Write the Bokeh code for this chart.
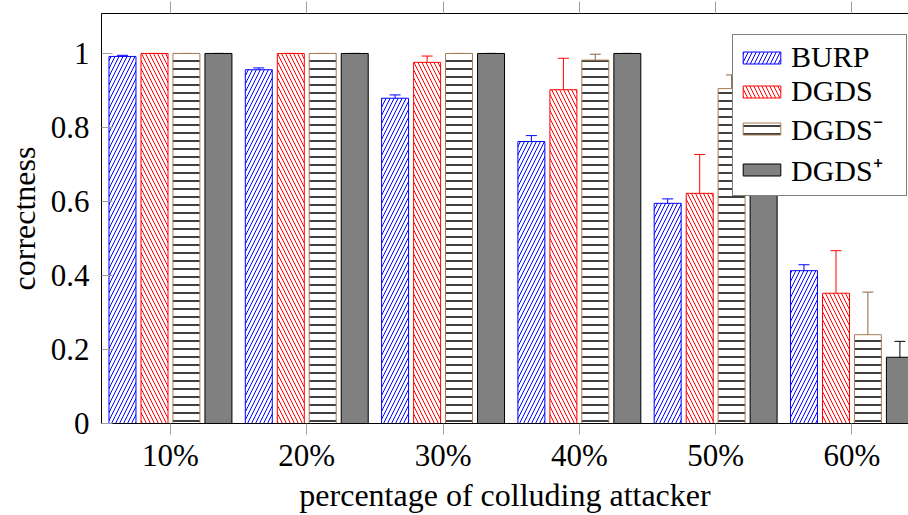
from bokeh.plotting import figure
from bokeh.models import (ColumnDataSource, Range1d, FixedTicker, CustomJSTickFormatter,
                          LinearAxis, Whisker, TeeHead, Legend, LegendItem)
from bokeh.embed import file_html
from bokeh.resources import INLINE

# ---- data ----
groups = ["10%", "20%", "30%", "40%", "50%", "60%"]
series_names = ["BURP", "DGDS", "DGDS\u207b", "DGDS\u207a"]
burp = [0.992, 0.956, 0.879, 0.762, 0.595, 0.413]
burp_err = [0.003, 0.005, 0.009, 0.016, 0.012, 0.016]
dgds = [1.0, 1.0, 0.976, 0.902, 0.622, 0.352]
dgds_err = [0.0, 0.0, 0.017, 0.085, 0.105, 0.115]
dgds_minus = [1.0, 1.0, 1.0, 0.982, 0.905, 0.240]
dgds_minus_err = [0.0, 0.0, 0.0, 0.016, 0.037, 0.115]
dgds_plus = [1.0, 1.0, 1.0, 1.0, 0.97, 0.179]
dgds_plus_err = [0.0, 0.0, 0.0, 0.0, 0.02, 0.043]
y_ticks = [0, 0.2, 0.4, 0.6, 0.8, 1]
x_title = "percentage of colluding attacker"
y_title = "correctness"

FONT = "Liberation Serif"
FS = "31px"

p = figure(width=908, height=515, output_backend="svg", toolbar_location=None,
           x_range=Range1d(0.494, 6.415), y_range=Range1d(0.0, 1.108),
           min_border_left=101, min_border_right=0, min_border_top=13, min_border_bottom=92,
           x_axis_location=None, y_axis_location=None)
p.grid.visible = False
p.outline_line_color = None
p.background_fill_color = "white"
p.border_fill_color = "white"

offsets = [-0.352, -0.117, 0.117, 0.352]
bar_w = 0.198
values = [burp, dgds, dgds_minus, dgds_plus]
errors = [burp_err, dgds_err, dgds_minus_err, dgds_plus_err]
styles = [
    dict(fill_color="white", line_color="#0000ff", hatch_pattern="/", hatch_color="#0000ff",
         hatch_scale=8, hatch_weight=1, whisk="#0000ff"),
    dict(fill_color="white", line_color="#ff0000", hatch_pattern="\\", hatch_color="#ff0000",
         hatch_scale=8, hatch_weight=1, whisk="#ff0000"),
    dict(fill_color="white", line_color="#a67c52", hatch_pattern="-", hatch_color="black",
         hatch_scale=8, hatch_weight=1.5, whisk="#8b6540"),
    dict(fill_color="#808080", line_color="black", hatch_pattern=None, hatch_color="black",
         hatch_scale=8, hatch_weight=1, whisk="black"),
]

items = []
for name, vals, errs, off, st in zip(series_names, values, errors, offsets, styles):
    xs = [i + 1 + off for i in range(len(groups))]
    src = ColumnDataSource(dict(x=xs, top=vals,
                                upper=[v + e for v, e in zip(vals, errs)],
                                lower=[v - e for v, e in zip(vals, errs)]))
    kw = dict(x="x", top="top", bottom=0, width=bar_w, source=src,
              fill_color=st["fill_color"], line_color=st["line_color"], line_width=1)
    if st["hatch_pattern"]:
        kw.update(hatch_pattern=st["hatch_pattern"], hatch_color=st["hatch_color"],
                  hatch_scale=st["hatch_scale"], hatch_weight=st["hatch_weight"])
    r = p.vbar(**kw)
    items.append(LegendItem(label=name, renderers=[r]))
    w = Whisker(source=src, base="x", upper="upper", lower="lower", dimension="height",
                line_color=st["whisk"], line_width=1,
                upper_head=TeeHead(size=11, line_color=st["whisk"], line_width=1),
                lower_head=TeeHead(size=11, line_color=st["whisk"], line_width=1))
    p.add_layout(w)

# axes
xticker = FixedTicker(ticks=[i + 1 for i in range(len(groups))])
xb = LinearAxis(ticker=xticker,
                major_label_overrides={i + 1: g for i, g in enumerate(groups)},
                axis_label=x_title)
xb.axis_line_color = "black"
xb.major_tick_line_color = "#a0a0a0"
xb.major_tick_out = 11
xb.major_tick_in = 0
xb.minor_tick_line_color = None
xb.major_label_standoff = 3
xb.axis_label_standoff = 1
xb.major_label_text_font = FONT
xb.major_label_text_font_size = FS
xb.major_label_text_color = "black"
xb.major_label_text_line_height = 1.0
xb.axis_label_text_font = FONT
xb.axis_label_text_font_size = "32px"
xb.axis_label_text_font_style = "normal"
xb.axis_label_text_color = "black"
xb.axis_label_text_line_height = 1.0
p.add_layout(xb, "below")

xt = LinearAxis(ticker=xticker, formatter=CustomJSTickFormatter(code="return ''"))
xt.axis_line_color = "black"
xt.major_tick_line_color = "#a0a0a0"
xt.major_tick_out = 12
xt.major_tick_in = 0
xt.minor_tick_line_color = None
xt.major_label_standoff = 0
xt.major_label_text_font_size = "0px"
p.add_layout(xt, "above")

yl = LinearAxis(ticker=FixedTicker(ticks=y_ticks),
                formatter=CustomJSTickFormatter(code="return tick.toString()"),
                axis_label=y_title)
yl.axis_line_color = "black"
yl.major_tick_line_color = "#a0a0a0"
yl.major_tick_in = 11
yl.major_tick_out = 0
yl.minor_tick_line_color = None
yl.major_label_standoff = 12
yl.axis_label_standoff = 6
yl.major_label_text_font = FONT
yl.major_label_text_font_size = FS
yl.major_label_text_color = "black"
yl.axis_label_text_font = FONT
yl.axis_label_text_font_size = "32px"
yl.axis_label_text_font_style = "normal"
yl.axis_label_text_color = "black"
yl.axis_label_text_line_height = 1.0
p.add_layout(yl, "left")

legend = Legend(items=items, location=(631, 227), orientation="vertical",
                label_text_font=FONT, label_text_font_size="30px", label_text_color="black",
                glyph_width=47, glyph_height=15, label_standoff=6, label_width=110,
                label_height=30, spacing=0, padding=5, margin=0,
                border_line_color="black", border_line_width=1,
                background_fill_color="white", background_fill_alpha=1.0)
p.add_layout(legend)

open("out.html", "w").write(file_html(p, INLINE))
